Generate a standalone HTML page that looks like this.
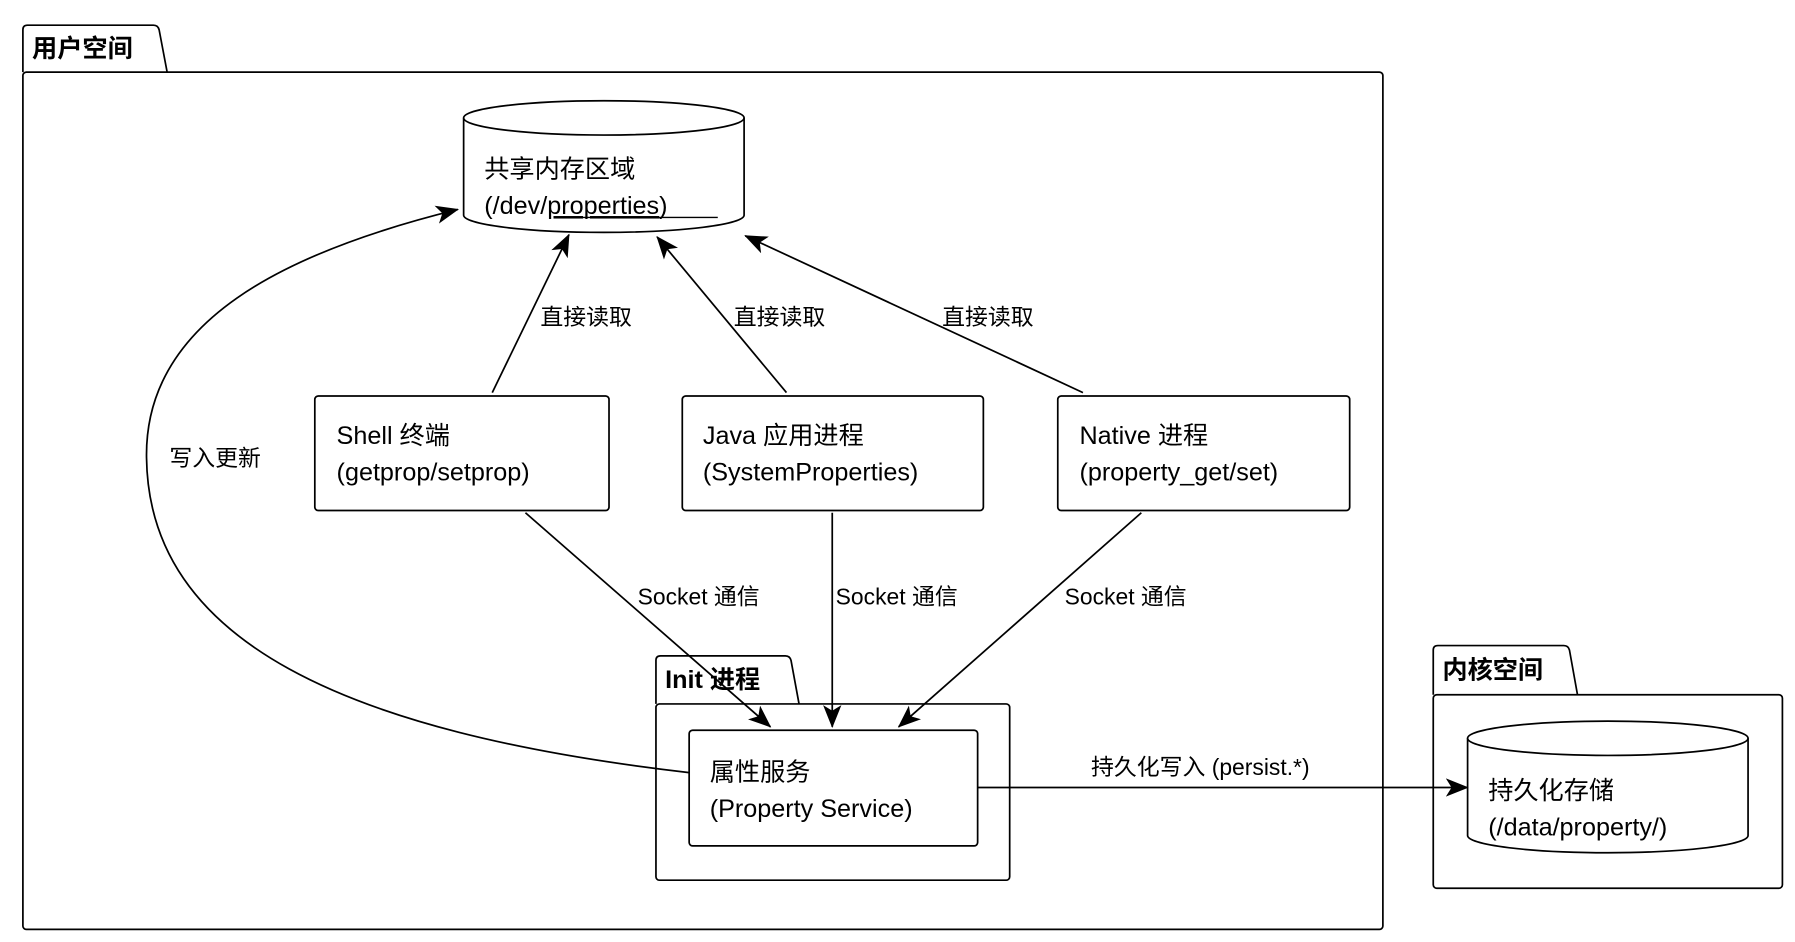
<!DOCTYPE html>
<html><head><meta charset="utf-8"><style>
html,body{margin:0;padding:0;background:#fff;}
svg{display:block;}
text{font-family:"Liberation Sans","Noto Sans CJK SC",sans-serif;font-size:22px;fill:#000;}
.b{font-weight:bold;}
</style></head><body>
<svg width="1795" height="942" viewBox="0 0 1568 823" preserveAspectRatio="none" xmlns="http://www.w3.org/2000/svg">
<defs>
<marker id="a" viewBox="0 0 20 16" refX="19" refY="8" markerWidth="20" markerHeight="16" markerUnits="userSpaceOnUse" orient="auto">
<path d="M0,0 L20,8 L0,16 L5,8 Z" fill="#000"/>
</marker>
</defs>
<g fill="none" stroke="#000" stroke-width="1.5">
<!-- user space package -->
<path d="M20,63 L20,26 Q20,22 24,22 L134,22 Q138,22 139,26 L146,63"/>
<rect x="20" y="63" width="1188" height="749" rx="3"/>
<!-- shared memory cylinder -->
<path d="M405,103 L405,188 A122.5,15 0 0 0 650,188 L650,103"/>
<ellipse cx="527.5" cy="103" rx="122.5" ry="15"/>
<!-- boxes -->
<rect x="275" y="346" width="257" height="100" rx="3"/>
<rect x="596" y="346" width="263" height="100" rx="3"/>
<rect x="924" y="346" width="255" height="100" rx="3"/>
<!-- init package -->
<path d="M573,615 L573,577 Q573,573 577,573 L686,573 Q690,573 691,577 L698,615"/>
<rect x="573" y="615" width="309" height="154" rx="3"/>
<rect x="602" y="638" width="252" height="101" rx="3"/>
<!-- kernel package -->
<path d="M1252,607 L1252,568 Q1252,564 1256,564 L1366,564 Q1370,564 1371,568 L1378,607"/>
<rect x="1252" y="607" width="305" height="169" rx="3"/>
<path d="M1282,645 L1282,730 A122.5,15 0 0 0 1527,730 L1527,645"/>
<ellipse cx="1404.5" cy="645" rx="122.5" ry="15"/>
<!-- arrows -->
<path d="M430,343 L497,205" marker-end="url(#a)"/>
<path d="M687,343 L574,207" marker-end="url(#a)"/>
<path d="M946,343 L651,206" marker-end="url(#a)"/>
<path d="M459,448 L673,635" marker-end="url(#a)"/>
<path d="M727,448 L727,635" marker-end="url(#a)"/>
<path d="M997,448 L785,635" marker-end="url(#a)"/>
<path d="M602,675 C300,640 130,560 128,400 C126,280 250,220 400,183" marker-end="url(#a)"/>
<path d="M854,688 L1282,688" marker-end="url(#a)"/>
</g>
<text x="28" y="50" class="b">用户空间</text>
<text x="581" y="601" class="b">Init 进程</text>
<text x="1260" y="593" class="b">内核空间</text>
<text x="423" y="155">共享内存区域</text>
<text x="423" y="187">(/dev/<tspan text-decoration="underline">properties</tspan>)</text>
<line x1="499" y1="190" x2="627" y2="190" stroke="#000" stroke-width="1.2"/>
<text x="294" y="388">Shell 终端</text>
<text x="294" y="420">(getprop/setprop)</text>
<text x="614" y="388">Java 应用进程</text>
<text x="614" y="420">(SystemProperties)</text>
<text x="943" y="388">Native 进程</text>
<text x="943" y="420">(property_get/set)</text>
<text x="620" y="682">属性服务</text>
<text x="620" y="714">(Property Service)</text>
<text x="1300" y="698">持久化存储</text>
<text x="1300" y="730">(/data/property/)</text>
<text x="472" y="284" style="font-size:20px">直接读取</text>
<text x="641" y="284" style="font-size:20px">直接读取</text>
<text x="823" y="284" style="font-size:20px">直接读取</text>
<text x="557" y="528" style="font-size:20px">Socket 通信</text>
<text x="730" y="528" style="font-size:20px">Socket 通信</text>
<text x="930" y="528" style="font-size:20px">Socket 通信</text>
<text x="148" y="407" style="font-size:20px">写入更新</text>
<text x="953" y="677" style="font-size:20px">持久化写入 (persist.*)</text>
</svg>
</body></html>
